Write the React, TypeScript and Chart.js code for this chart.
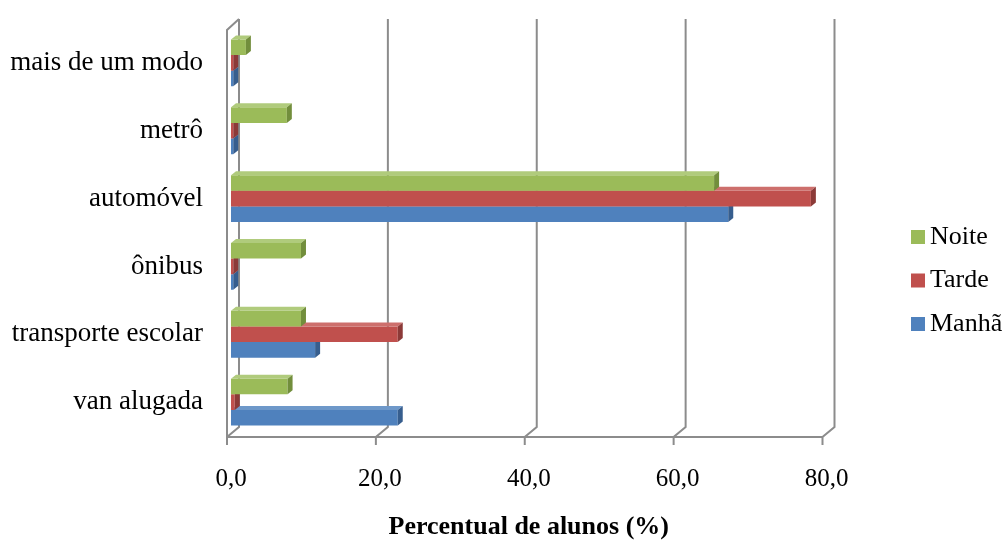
import { useEffect, useRef } from 'react';
import { Chart, registerables } from 'chart.js';

Chart.register(...registerables);

const categories = ['mais de um modo', 'metrô', 'automóvel', 'ônibus', 'transporte escolar', 'van alugada'];
const seriesNames = ['Noite', 'Tarde', 'Manhã'];
const noite = [2.0, 7.5, 64.9, 9.4, 9.4, 7.6];
const tarde = [0.3, 0.3, 77.9, 0.3, 22.4, 0.5];
const manha = [0.3, 0.3, 66.8, 0.3, 11.3, 22.4];
const xTicks = [0, 20, 40, 60, 80];
const axisTitle = 'Percentual de alunos (%)';

const frontColors = ['#9BBB59', '#C0504D', '#4F81BD'];
const sideColors = ['#728E3C', '#8C3A38', '#375E8E'];
const topColors = ['#B0CB7C', '#CD6F6C', '#6E98C9'];

const FONT = '"Liberation Serif", "Times New Roman", serif';

const frame3d = {
  id: 'frame3d',
  beforeDatasetsDraw(chart: any) {
    const { ctx, chartArea, scales } = chart;
    const { top, bottom } = chartArea;
    const x = scales.x;
    ctx.save();
    ctx.strokeStyle = '#8C8C8C';
    ctx.lineWidth = 2;
    const fb = bottom + 1;
    const bb = bottom - 9;
    const bt = top - 10;
    xTicks.forEach((v) => {
      const px = x.getPixelForValue(v);
      ctx.beginPath();
      ctx.moveTo(px + 8, bt);
      ctx.lineTo(px + 8, bb);
      ctx.lineTo(px - 4, fb);
      ctx.lineTo(px - 4, fb + 8);
      ctx.stroke();
    });
    const x0 = x.getPixelForValue(xTicks[0]);
    const x1 = x.getPixelForValue(xTicks[xTicks.length - 1]);
    ctx.beginPath();
    ctx.moveTo(x0 - 4, fb);
    ctx.lineTo(x1 - 4, fb);
    ctx.stroke();
    ctx.beginPath();
    ctx.moveTo(x0 + 8, bt);
    ctx.lineTo(x0 - 4, bt + 11);
    ctx.lineTo(x0 - 4, fb);
    ctx.stroke();
    ctx.restore();
  },
};

const bars3d = {
  id: 'bars3d',
  afterDatasetDraw(chart: any, args: any) {
    const { ctx } = chart;
    const i = args.index;
    const dx = 5;
    const dy = 4;
    ctx.save();
    args.meta.data.forEach((bar: any) => {
      const { x, y, base, height } = bar.getProps(['x', 'y', 'base', 'height'], true);
      const t = y - height / 2;
      const b = y + height / 2;
      ctx.fillStyle = topColors[i];
      ctx.beginPath();
      ctx.moveTo(base, t);
      ctx.lineTo(base + dx, t - dy);
      ctx.lineTo(x + dx, t - dy);
      ctx.lineTo(x, t);
      ctx.closePath();
      ctx.fill();
      ctx.fillStyle = sideColors[i];
      ctx.beginPath();
      ctx.moveTo(x, t);
      ctx.lineTo(x + dx, t - dy);
      ctx.lineTo(x + dx, b - dy);
      ctx.lineTo(x, b);
      ctx.closePath();
      ctx.fill();
    });
    ctx.restore();
  },
};

const legendRight = {
  id: 'legendRight',
  afterDraw(chart: any) {
    const { ctx } = chart;
    ctx.save();
    ctx.font = `26px ${FONT}`;
    ctx.textBaseline = 'middle';
    ctx.textAlign = 'left';
    const x0 = 911;
    const ys = [237, 280.5, 324];
    seriesNames.forEach((name, i) => {
      const yc = ys[i];
      ctx.fillStyle = frontColors[i];
      ctx.fillRect(x0, yc - 7, 14, 14);
      ctx.fillStyle = '#000';
      ctx.fillText(name, x0 + 19, yc);
    });
    ctx.restore();
  },
};

export default function App() {
  const ref = useRef<HTMLCanvasElement | null>(null);
  useEffect(() => {
    if (!ref.current) return;
    Chart.defaults.font.family = FONT;
    const chart = new Chart(ref.current, {
      type: 'bar',
      data: {
        labels: categories,
        datasets: [
          { label: seriesNames[0], data: noite, backgroundColor: frontColors[0], borderWidth: 0 },
          { label: seriesNames[1], data: tarde, backgroundColor: frontColors[1], borderWidth: 0 },
          { label: seriesNames[2], data: manha, backgroundColor: frontColors[2], borderWidth: 0 },
        ],
      },
      options: {
        indexAxis: 'y',
        responsive: false,
        animation: false,
        layout: { padding: { top: 29, right: 180.5, bottom: 0, left: 0 } },
        datasets: { bar: { categoryPercentage: 0.69, barPercentage: 1.0 } },
        plugins: { legend: { display: false }, tooltip: { enabled: false } },
        scales: {
          x: {
            min: 0,
            max: 80,
            grid: { display: false, drawTicks: false },
            border: { display: false },
            afterBuildTicks: (s: any) => {
              s.ticks = xTicks.map((v) => ({ value: v }));
            },
            ticks: {
              font: { size: 25, family: FONT },
              color: '#000',
              padding: 28,
              callback: (v: any) => Number(v).toFixed(1).replace('.', ','),
            },
            title: {
              display: true,
              text: axisTitle,
              color: '#000',
              font: { size: 26, weight: 'bold', family: FONT, lineHeight: 1.0 },
              padding: { top: 17, bottom: 0 },
            },
            afterFit: (s: any) => {
              s.height = 104;
              s.paddingLeft = 0;
              s.paddingRight = 0;
            },
          },
          y: {
            grid: { display: false, drawTicks: false },
            border: { display: false },
            ticks: { font: { size: 27, family: FONT }, color: '#000', padding: 28 },
            afterFit: (s: any) => {
              s.width = 231;
              s.paddingTop = 0;
              s.paddingBottom = 0;
            },
          },
        },
      } as any,
      plugins: [frame3d, bars3d, legendRight],
    });
    return () => chart.destroy();
  }, []);
  return (
    <div style={{ position: 'fixed', left: 0, top: 0, width: 1007, height: 540, background: '#fff' }}>
      <canvas ref={ref} width={1007} height={540} style={{ width: 1007, height: 540, display: 'block' }} />
    </div>
  );
}
